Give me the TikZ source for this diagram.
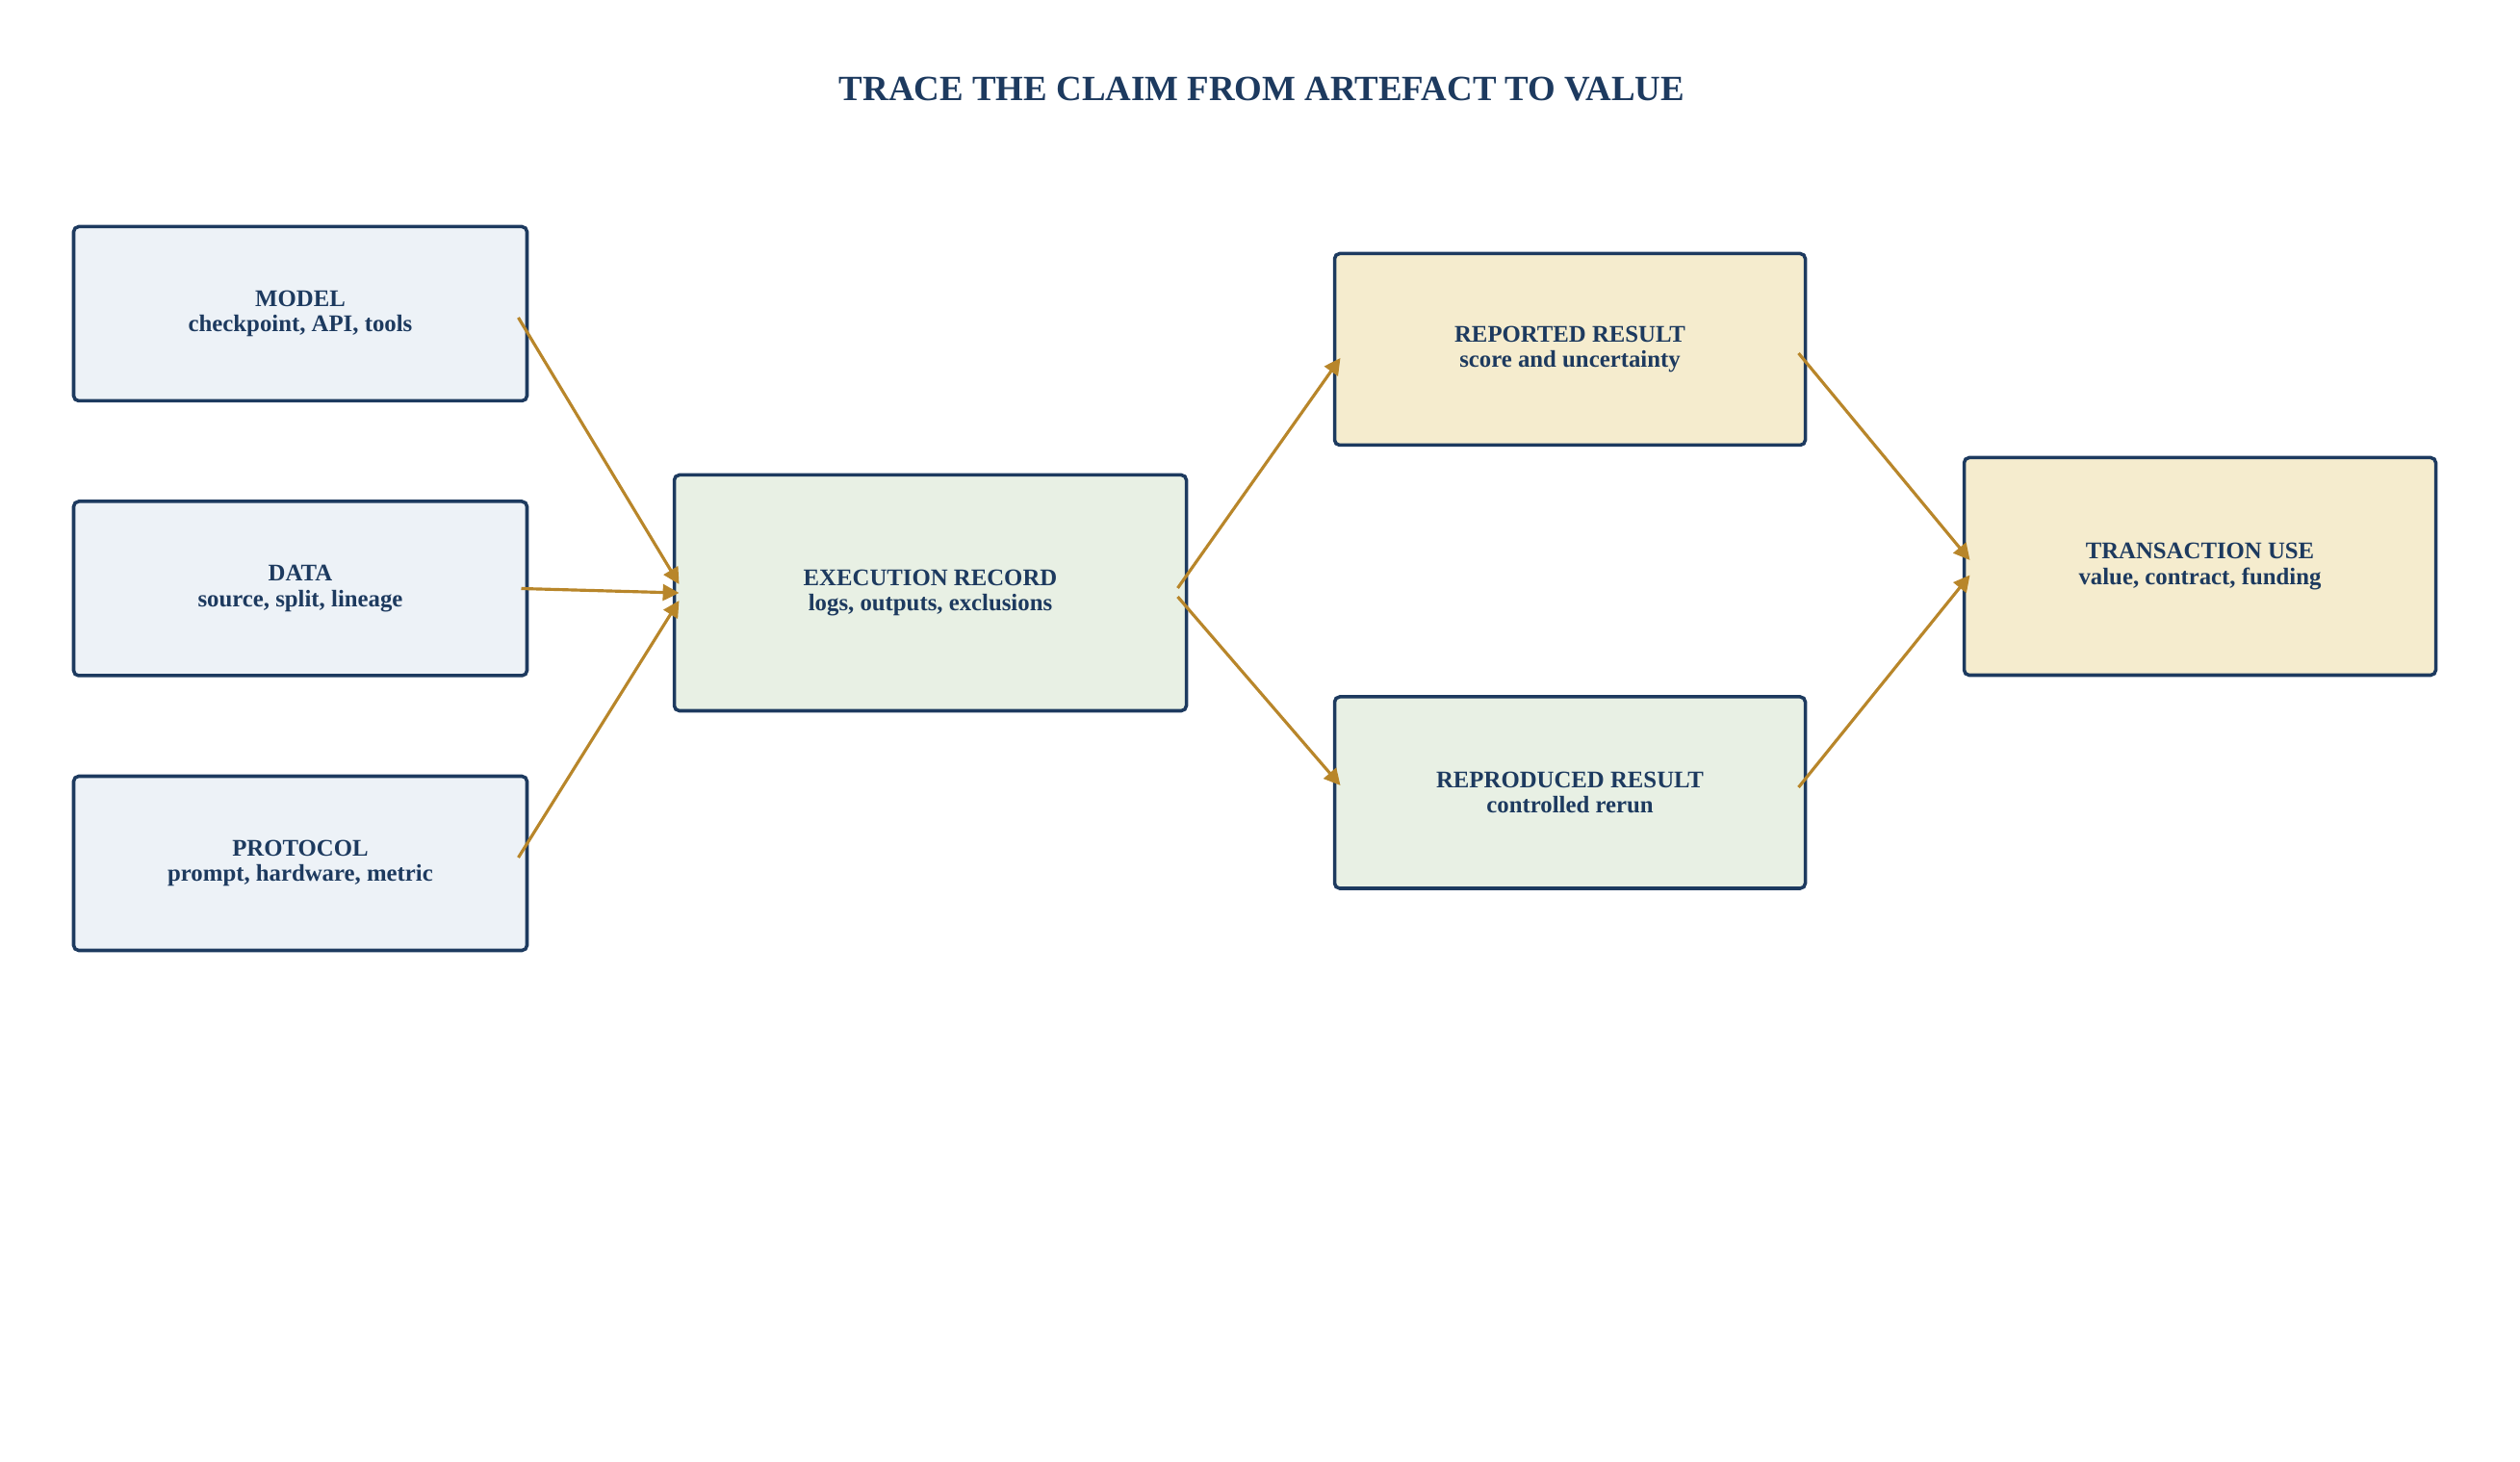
\documentclass[tikz,border=0pt]{standalone}
\usepackage{fontspec}
\setmainfont{Liberation Serif}
\usepackage{tikz}
\usetikzlibrary{arrows.meta}
\usetikzlibrary{positioning}
\definecolor{navy}{HTML}{1D3A5F}
\definecolor{gold}{HTML}{B8862A}
\definecolor{inblue}{HTML}{EDF2F7}
\definecolor{recgreen}{HTML}{E8F0E4}
\definecolor{useyellow}{HTML}{F5ECCE}
\tikzset{
  every box/.style={draw=navy, line width=1pt, rounded corners=1.5pt, align=center,
    text=navy, inner sep=0pt, outer sep=0pt,
    font=\fontsize{7.05}{7.6}\selectfont\bfseries},
  in box/.style={every box, fill=inblue, minimum width=4.71cm, minimum height=1.81cm},
  rec box/.style={every box, fill=recgreen},
  use box/.style={every box, fill=useyellow}
}

\begin{document}
\begin{tikzpicture}[> = {Triangle[length=4.8pt,width=4.8pt]}, node distance=2.855cm, on grid]
        \useasboundingbox (0,0) rectangle (26.18,15.18);
        \node[text=navy, font=\fontsize{10.5}{12}\selectfont\bfseries, anchor=base]
             (title) at (13.11,14.13) {TRACE THE CLAIM FROM ARTEFACT TO VALUE};

        \node[in box]  (src_2) at (3.12,9.065)   {DATA\\source, split, lineage};
        \node[in box]  (src_1) [above=of src_2]  {MODEL\\checkpoint, API, tools};
        \node[in box]  (src_3) [below=of src_2]  {PROTOCOL\\prompt, hardware, metric};
        \node[rec box, minimum width=5.32cm, minimum height=2.45cm]
                       (rec)   at (9.665,9.02)   {EXECUTION RECORD\\logs, outputs, exclusions};
        \node[use box, minimum width=4.89cm, minimum height=1.99cm]
                       (res_1) at (16.31,11.55)  {REPORTED RESULT\\score and uncertainty};
        \node[rec box, minimum width=4.89cm, minimum height=1.99cm]
                       (res_2) at (16.31,6.945)  {REPRODUCED RESULT\\controlled rerun};
        \node[use box, minimum width=4.90cm, minimum height=2.26cm]
                       (use)   at (22.855,9.295) {TRANSACTION USE\\value, contract, funding};

        \path[->, color=gold, line width=0.9pt]
              ([shift={(-0.09,-0.04)}]src_1.east) edge ([shift={(0.05,0.09)}]rec.west)
              ([shift={(-0.06,0)}]src_2.east)     edge ([shift={(0.05,0)}]rec.west)
              ([shift={(-0.09,0.06)}]src_3.east)  edge ([shift={(0.05,-0.08)}]rec.west)
              ([shift={(-0.09,0.05)}]rec.east)    edge ([shift={(0.06,-0.09)}]res_1.west)
              ([shift={(-0.09,-0.04)}]rec.east)   edge ([shift={(0.06,0.075)}]res_2.west)
              ([shift={(-0.07,-0.04)}]res_1.east) edge ([shift={(0.06,0.065)}]use.west)
              ([shift={(-0.07,0.055)}]res_2.east) edge ([shift={(0.06,-0.09)}]use.west);
      \end{tikzpicture}
\end{document}
